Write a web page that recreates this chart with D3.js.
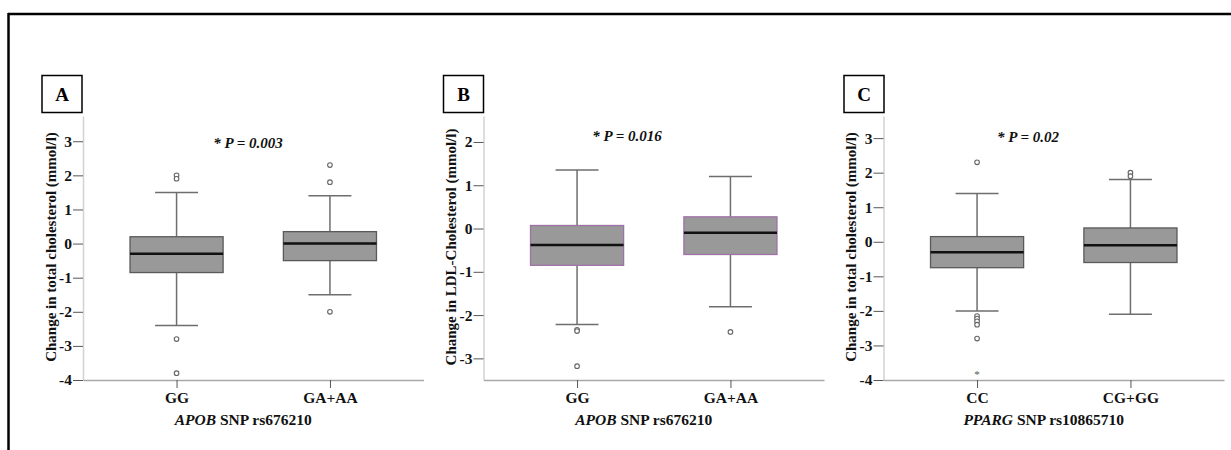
<!DOCTYPE html>
<html>
<head>
<meta charset="utf-8">
<script src="https://cdn.jsdelivr.net/npm/d3@7"></script>
<style>
  body { margin: 0; background: #fff; }
  svg { display: block; font-family: "Liberation Serif", "DejaVu Serif", serif; }
</style>
</head>
<body>
<div id="chart"></div>
<script>
// Chart size
const width = 1231;
const height = 450;

// Panel A - total cholesterol by APOB rs676210
const categoriesA = ["GG", "GA+AA"];
const lowerA = [-2.4, -1.5];
const q1A = [-0.85, -0.5];
const medianA = [-0.3, 0];
const q3A = [0.2, 0.35];
const upperA = [1.5, 1.4];
const outliersA = [[2.0, 1.9, -2.8, -3.8], [2.3, 1.8, -2.0]];
const extremesA = [[], []];
const ticksA = [-4, -3, -2, -1, 0, 1, 2, 3];

// Panel B - LDL cholesterol by APOB rs676210
const categoriesB = ["GG", "GA+AA"];
const lowerB = [-2.22, -1.81];
const q1B = [-0.85, -0.6];
const medianB = [-0.38, -0.1];
const q3B = [0.07, 0.27];
const upperB = [1.35, 1.2];
const outliersB = [[-2.34, -2.37, -3.18], [-2.39]];
const extremesB = [[], []];
const ticksB = [-3, -2, -1, 0, 1, 2];

// Panel C - total cholesterol by PPARG rs10865710
const categoriesC = ["CC", "CG+GG"];
const lowerC = [-2.0, -2.1];
const q1C = [-0.75, -0.6];
const medianC = [-0.3, -0.1];
const q3C = [0.15, 0.4];
const upperC = [1.4, 1.8];
const outliersC = [[2.3, -2.15, -2.22, -2.3, -2.4, -2.8], [2.0, 1.9]];
const extremesC = [[-3.8], []];
const ticksC = [-4, -3, -2, -1, 0, 1, 2, 3];

const svg = d3.select("#chart")
  .append("svg")
  .attr("width", width)
  .attr("height", height);

// outer frame (top and left edges only)
svg.append("line").attr("x1", 8).attr("x2", width).attr("y1", 14).attr("y2", 14)
  .attr("stroke", "#000").attr("stroke-width", 2.5);
svg.append("line").attr("x1", 8.5).attr("x2", 8.5).attr("y1", 13).attr("y2", height)
  .attr("stroke", "#000").attr("stroke-width", 2.5);

const panels = [
  {letter: "A", left: 83, domain: [-4, 3.74], ticks: ticksA, cats: categoriesA,
   lo: lowerA, q1: q1A, med: medianA, q3: q3A, hi: upperA, out: outliersA, ext: extremesA,
   boxStroke: "#5a5a5a", pText: "0.003", pX: 248, pY: 148,
   ylabel: "Change in total cholesterol (mmol/l)", gene: "APOB", snp: " SNP rs676210", labelX: 50, boxX: 42},
  {letter: "B", left: 483.5, domain: [-3.5, 2.6], ticks: ticksB, cats: categoriesB,
   lo: lowerB, q1: q1B, med: medianB, q3: q3B, hi: upperB, out: outliersB, ext: extremesB,
   boxStroke: "#a070a8", pText: "0.016", pX: 627, pY: 141,
   ylabel: "Change in LDL-Cholesterol (mmol/l)", gene: "APOB", snp: " SNP rs676210", labelX: 450, boxX: 443.5},
  {letter: "C", left: 883.5, domain: [-4, 3.64], ticks: ticksC, cats: categoriesC,
   lo: lowerC, q1: q1C, med: medianC, q3: q3C, hi: upperC, out: outliersC, ext: extremesC,
   boxStroke: "#5a5a5a", pText: "0.02", pX: 1028, pY: 142,
   ylabel: "Change in total cholesterol (mmol/l)", gene: "PPARG", snp: " SNP rs10865710", labelX: 850, boxX: 844}
];

const plotTop = 116, plotBottom = 380, axisW = 340.5;

panels.forEach(p => {
  const g = svg.append("g");

  const y = d3.scaleLinear().domain(p.domain).range([plotBottom, plotTop]);
  const x = d3.scalePoint().domain(p.cats).range([p.left, p.left + axisW]).padding(0.61);

  // y axis
  const yAxis = g.append("g")
    .attr("transform", `translate(${p.left},0)`)
    .call(d3.axisLeft(y).tickValues(p.ticks).tickSize(10).tickSizeOuter(0).tickPadding(1)
      .tickFormat(d => String(d)));
  yAxis.select(".domain").attr("stroke", "#d2d2d2").attr("stroke-width", 1.5);
  yAxis.selectAll(".tick line").attr("stroke", "#555");
  yAxis.selectAll(".tick text").attr("fill", "#111").attr("font-size", 15.5)
    .attr("font-weight", "bold").attr("font-family", "Liberation Serif");

  // x axis
  const xAxis = g.append("g")
    .attr("transform", `translate(0,${plotBottom})`)
    .call(d3.axisBottom(x).tickSize(8).tickSizeOuter(0).tickPadding(4));
  xAxis.select(".domain").attr("stroke", "#a8a8a8").attr("stroke-width", 1.5);
  xAxis.selectAll(".tick line").attr("stroke", "#555");
  xAxis.selectAll(".tick text").attr("fill", "#111").attr("font-size", 15.5)
    .attr("font-weight", "bold").attr("font-family", "Liberation Serif");

  const boxW = x.step() * 0.607;
  const capW = x.step() * 0.28;

  p.cats.forEach((c, i) => {
    const cx = x(c);
    // whiskers
    g.append("line").attr("x1", cx).attr("x2", cx).attr("y1", y(p.hi[i])).attr("y2", y(p.q3[i]))
      .attr("stroke", "#6e6e6e").attr("stroke-width", 1.5);
    g.append("line").attr("x1", cx).attr("x2", cx).attr("y1", y(p.q1[i])).attr("y2", y(p.lo[i]))
      .attr("stroke", "#6e6e6e").attr("stroke-width", 1.5);
    [p.hi[i], p.lo[i]].forEach(v => {
      g.append("line").attr("x1", cx - capW / 2).attr("x2", cx + capW / 2)
        .attr("y1", y(v)).attr("y2", y(v))
        .attr("stroke", "#6e6e6e").attr("stroke-width", 1.5);
    });
    // box
    g.append("rect")
      .attr("x", cx - boxW / 2).attr("width", boxW)
      .attr("y", y(p.q3[i])).attr("height", y(p.q1[i]) - y(p.q3[i]))
      .attr("fill", "#999").attr("stroke", p.boxStroke).attr("stroke-width", 1.3);
    // median
    g.append("line").attr("x1", cx - boxW / 2).attr("x2", cx + boxW / 2)
      .attr("y1", y(p.med[i])).attr("y2", y(p.med[i]))
      .attr("stroke", "#111").attr("stroke-width", 2.5);
    // outliers
    g.selectAll(null).data(p.out[i]).enter().append("circle")
      .attr("cx", cx).attr("cy", d => y(d)).attr("r", 2.3)
      .attr("fill", "#fff").attr("stroke", "#666").attr("stroke-width", 1.1);
    g.selectAll(null).data(p.ext[i]).enter().append("text")
      .attr("x", cx).attr("y", d => y(d) + 5).attr("text-anchor", "middle")
      .attr("font-size", 11).attr("fill", "#555").text("*");
  });

  // p-value
  const pt = g.append("text").attr("x", p.pX).attr("y", p.pY).attr("text-anchor", "middle")
    .attr("font-size", 15).attr("font-weight", "bold").attr("font-style", "italic").attr("fill", "#111");
  pt.append("tspan").text("* ");
  pt.append("tspan").text("P");
  pt.append("tspan").text(" = " + p.pText);

  // y label
  g.append("text")
    .attr("transform", `translate(${p.labelX + 5.5},247) rotate(-90)`)
    .attr("text-anchor", "middle")
    .attr("font-size", 15).attr("font-weight", "bold").attr("fill", "#111")
    .text(p.ylabel);

  // x title
  const xt = g.append("text").attr("x", p.left + axisW / 2 - 10).attr("y", 425)
    .attr("text-anchor", "middle").attr("font-size", 15.5).attr("font-weight", "bold").attr("fill", "#111");
  xt.append("tspan").attr("font-style", "italic").text(p.gene);
  xt.append("tspan").text(p.snp);

  // panel letter box
  g.append("rect").attr("x", p.boxX).attr("y", 75.5).attr("width", 40).attr("height", 37)
    .attr("fill", "#fff").attr("stroke", "#000").attr("stroke-width", 1.5);
  g.append("text").attr("x", p.boxX + 20).attr("y", 101).attr("text-anchor", "middle")
    .attr("font-size", 19).attr("font-weight", "bold").attr("fill", "#000").text(p.letter);
});
</script>
</body>
</html>
